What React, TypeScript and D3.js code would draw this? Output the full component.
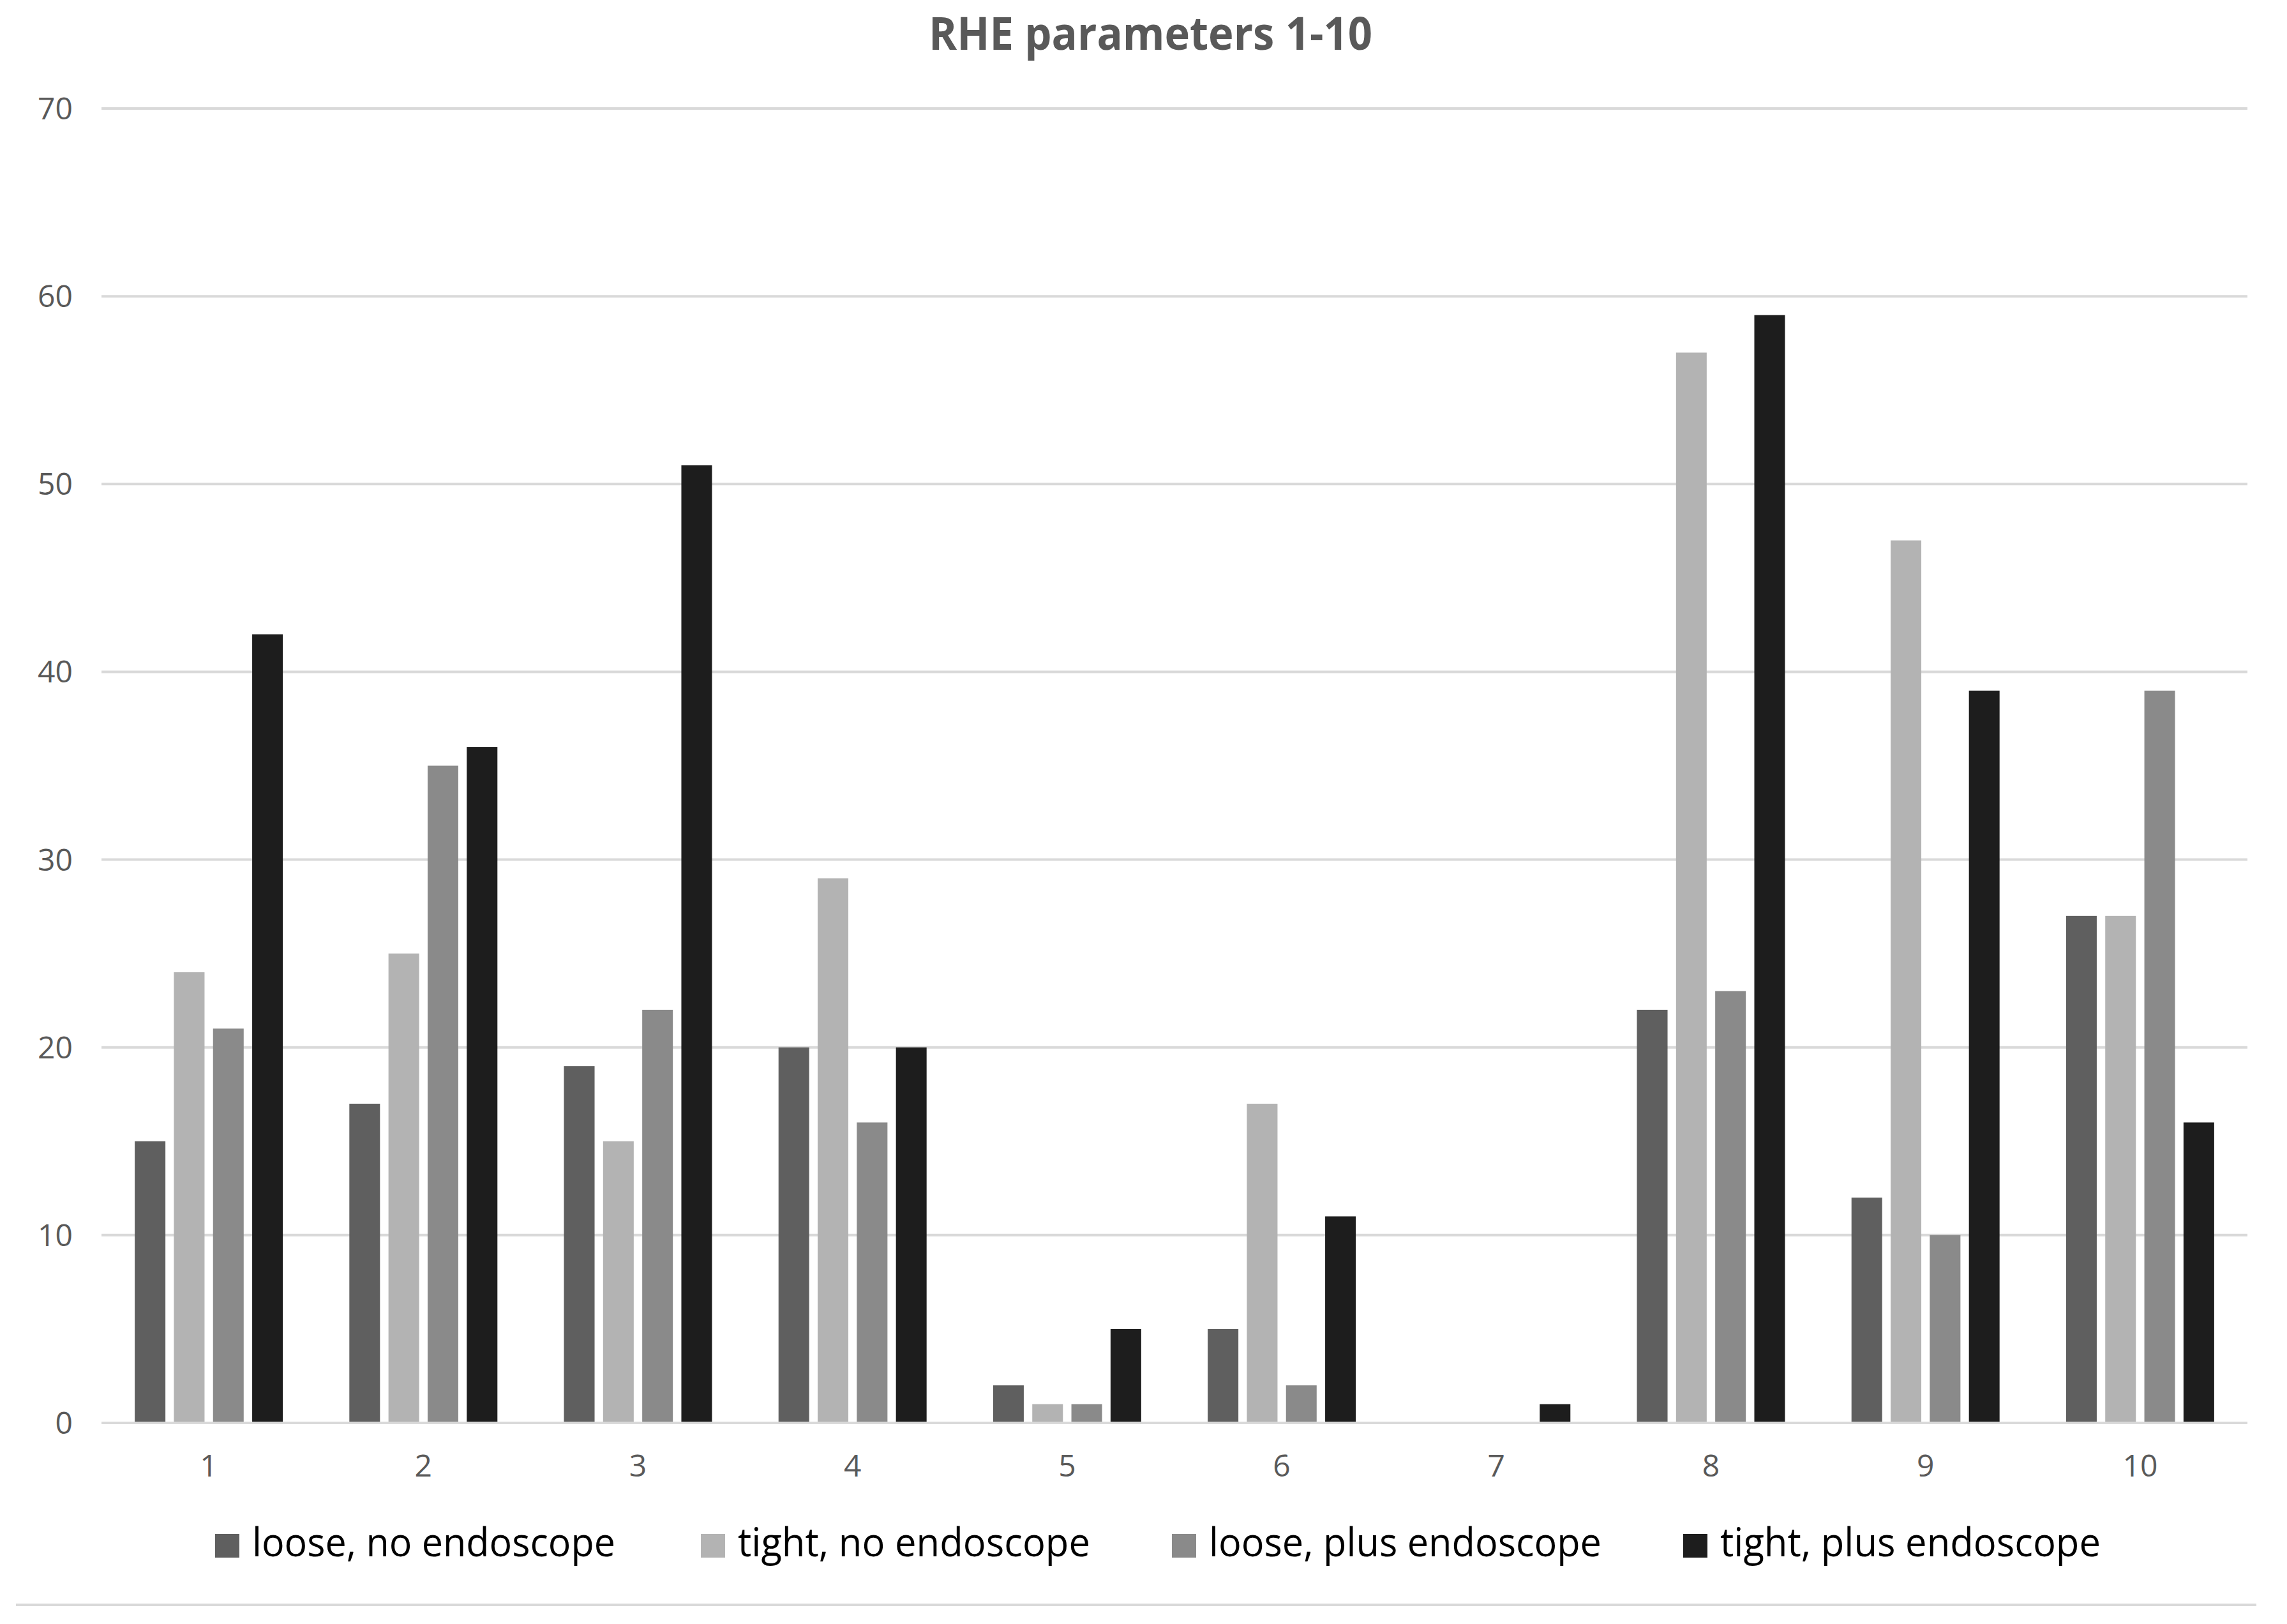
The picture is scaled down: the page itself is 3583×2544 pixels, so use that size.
import React, { useEffect } from "react";
import * as d3 from "d3";

// ---- data ----
const categories = ["1", "2", "3", "4", "5", "6", "7", "8", "9", "10"];
const seriesNames = [
  "loose, no endoscope",
  "tight, no endoscope",
  "loose, plus endoscope",
  "tight, plus endoscope",
];
const looseNoEndo = [15, 17, 19, 20, 2, 5, 0, 22, 12, 27];
const tightNoEndo = [24, 25, 15, 29, 1, 17, 0, 57, 47, 27];
const loosePlusEndo = [21, 35, 22, 16, 1, 2, 0, 23, 10, 39];
const tightPlusEndo = [42, 36, 51, 20, 5, 11, 1, 59, 39, 16];
const yTicks = [0, 10, 20, 30, 40, 50, 60, 70];
const title = "RHE parameters 1-10";

// ---- layout / style ----
const W = 3583;
const H = 2544;
const PLOT_LEFT = 159;
const PLOT_RIGHT = 3521;
const Y0 = 2229;
const Y70 = 170;
const GROUP_FRAC = 0.69;
const colors = ["#5f5f5f", "#b3b3b3", "#8a8a8a", "#1d1d1d"];
const legendSquareX = [337, 1098, 1836, 2637];
const legendTextW = [569, 552, 615, 596];
const FONT = "'Open Sans', 'Noto Sans', sans-serif";

export default function App() {
  useEffect(() => {
    document.body.style.margin = "0";
  }, []);

  const seriesValues = [looseNoEndo, tightNoEndo, loosePlusEndo, tightPlusEndo];

  const x0 = d3
    .scaleBand<string>()
    .domain(categories)
    .range([PLOT_LEFT, PLOT_RIGHT])
    .paddingInner(0)
    .paddingOuter(0);
  const groupW = x0.bandwidth() * GROUP_FRAC;
  const x1 = d3
    .scaleBand<string>()
    .domain(seriesNames)
    .range([0, groupW])
    .paddingInner(0.217)
    .paddingOuter(0);
  const y = d3.scaleLinear().domain([0, 70]).range([Y0, Y70]);

  return (
    <svg
      width={W}
      height={H}
      viewBox={`0 0 ${W} ${H}`}
      style={{ position: "absolute", left: 0, top: 0, background: "#ffffff" }}
    >
      <rect x={0} y={0} width={W} height={H} fill="#ffffff" />
      {/* title */}
      <text
        x={1455}
        y={78}
        fontFamily={FONT}
        fontWeight={700}
        fontSize={72}
        fill="#595959"
        textLength={695}
        lengthAdjust="spacingAndGlyphs"
      >
        {title}
      </text>

      {/* gridlines */}
      {yTicks.map((t) => (
        <line
          key={"g" + t}
          x1={PLOT_LEFT}
          x2={PLOT_RIGHT}
          y1={y(t)}
          y2={y(t)}
          stroke="#d9d9d9"
          strokeWidth={4}
        />
      ))}

      {/* y labels */}
      {yTicks.map((t) => (
        <text
          key={"yl" + t}
          x={114}
          y={y(t) + 17}
          textAnchor="end"
          fontFamily={FONT}
          fontSize={48}
          fill="#595959"
        >
          {t}
        </text>
      ))}

      {/* bars */}
      {categories.map((c, ci) => {
        const gx = (x0(c) as number) + (x0.bandwidth() - groupW) / 2;
        return (
          <g key={"c" + c}>
            {seriesNames.map((s, si) => {
              const v = seriesValues[si][ci];
              if (v <= 0) return null;
              return (
                <rect
                  key={s}
                  x={gx + (x1(s) as number)}
                  y={y(v)}
                  width={x1.bandwidth()}
                  height={Y0 - y(v)}
                  fill={colors[si]}
                />
              );
            })}
          </g>
        );
      })}

      {/* x axis line */}
      <line
        x1={PLOT_LEFT}
        x2={PLOT_RIGHT}
        y1={Y0}
        y2={Y0}
        stroke="#d9d9d9"
        strokeWidth={4}
      />

      {/* x labels */}
      {categories.map((c) => (
        <text
          key={"xl" + c}
          x={(x0(c) as number) + x0.bandwidth() / 2}
          y={2313}
          textAnchor="middle"
          fontFamily={FONT}
          fontSize={48}
          fill="#595959"
        >
          {c}
        </text>
      ))}

      {/* legend */}
      {seriesNames.map((s, i) => (
        <g key={"lg" + s}>
          <rect x={legendSquareX[i]} y={2403} width={38} height={37} fill={colors[i]} />
          <text
            x={legendSquareX[i] + 58}
            y={2438}
            fontFamily={FONT}
            fontSize={62}
            fill="#000000"
            textLength={legendTextW[i]}
            lengthAdjust="spacingAndGlyphs"
          >
            {s}
          </text>
        </g>
      ))}

      {/* bottom border line */}
      <line x1={25} x2={3535} y1={2514} y2={2514} stroke="#d9d9d9" strokeWidth={4} />
    </svg>
  );
}
